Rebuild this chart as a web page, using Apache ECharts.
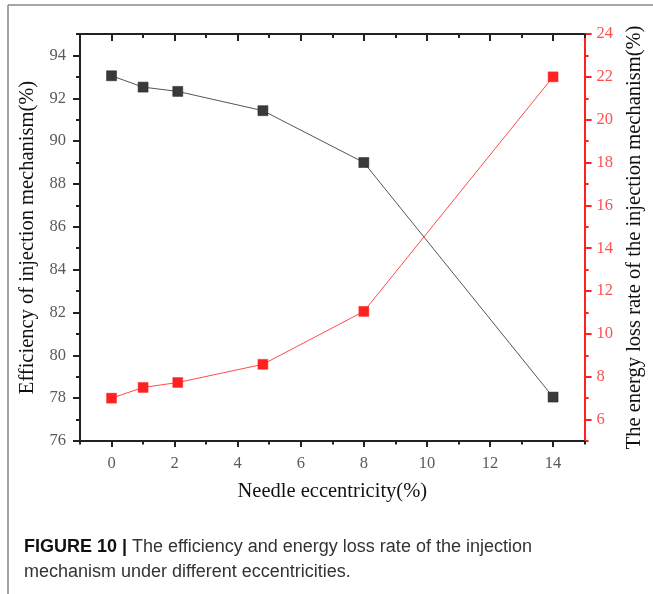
<!DOCTYPE html>
<html><head><meta charset="utf-8">
<script src="https://cdn.jsdelivr.net/npm/echarts@6/dist/echarts.min.js"></script>
<style>html,body{margin:0;padding:0;background:#fff}#c{width:653px;height:594px}</style>
</head><body><div id="c"></div>
<script>
// ---- data ----
const eccentricity = [0, 1, 2.1, 4.8, 8, 14];
const efficiency = [93.05, 92.52, 92.32, 91.42, 89.0, 78.05];
const energyLoss = [7.0, 7.5, 7.73, 8.58, 11.05, 22.0];
const xMajorTicks = [0, 2, 4, 6, 8, 10, 12, 14];
const xMinorTicks = [-1, 1, 3, 5, 7, 9, 11, 13, 15];
const effMajorTicks = [76, 78, 80, 82, 84, 86, 88, 90, 92, 94];
const effMinorTicks = [77, 79, 81, 83, 85, 87, 89, 91, 93, 95];
const lossMajorTicks = [6, 8, 10, 12, 14, 16, 18, 20, 22, 24];
const lossMinorTicks = [5, 7, 9, 11, 13, 15, 17, 19, 21, 23];
const xTitle = 'Needle eccentricity(%)';
const leftTitle = 'Efficiency of injection mechanism(%)';
const rightTitle = 'The energy loss rate of the injection mechanism(%)';
const captionBold = 'FIGURE 10 |';
const captionText = ' The efficiency and energy loss rate of the injection\nmechanism under different eccentricities.';

const serif = 'Liberation Serif';
const axisColor = '#222';
const red = '#ff2020';

function xAx(pos, ticks, len, inside, labels) {
  return {
    type: 'value', position: pos, min: -1, max: 15, interval: 1,
    axisLine: { show: true, onZero: false, lineStyle: { color: axisColor, width: 2 } },
    axisTick: { show: true, inside: inside, length: len, customValues: ticks, lineStyle: { color: axisColor, width: 2 } },
    axisLabel: labels ? { show: true, customValues: labels, margin: 14.5, fontFamily: serif, fontSize: 16.5, color: '#5a5a5a' } : { show: false },
    splitLine: { show: false }
  };
}
function yAx(pos, min, max, ticks, len, color, labelColor, labels) {
  return {
    type: 'value', position: pos, min: min, max: max, interval: 1,
    axisLine: { show: true, onZero: false, lineStyle: { color: color, width: 2 } },
    axisTick: { show: true, inside: false, length: len, customValues: ticks, lineStyle: { color: color, width: 2 } },
    axisLabel: labels ? { show: true, customValues: labels, margin: pos === 'left' ? 14 : 12, fontFamily: serif, fontSize: 16.5, color: labelColor } : { show: false },
    splitLine: { show: false }
  };
}

const xAxes = [
  Object.assign(xAx('bottom', xMajorTicks, 6, false, xMajorTicks), {
    name: xTitle, nameLocation: 'middle', nameGap: 40,
    nameTextStyle: { fontFamily: serif, fontSize: 20.5, color: '#111' }
  }),
  xAx('bottom', xMinorTicks, 3.5, false, null),
  xAx('top', xMajorTicks, 7, true, null),
  xAx('top', xMinorTicks, 4, true, null)
];
const yAxes = [
  Object.assign(yAx('left', 76, 95, effMajorTicks, 7, axisColor, '#5a5a5a', effMajorTicks), {
    name: leftTitle, nameLocation: 'middle', nameGap: 37, nameRotate: 90,
    nameTextStyle: { fontFamily: serif, fontSize: 20.5, color: '#111' }
  }),
  yAx('left', 76, 95, effMinorTicks, 4, axisColor, '#5a5a5a', null),
  Object.assign(yAx('right', 5, 24, lossMajorTicks, 7, red, '#ff5050', lossMajorTicks), {
    name: rightTitle, nameLocation: 'middle', nameGap: 38, nameRotate: 90,
    nameTextStyle: { fontFamily: serif, fontSize: 20.5, color: '#111' }
  }),
  yAx('right', 5, 24, lossMinorTicks, 4, red, '#ff5050', null)
];

const chart = echarts.init(document.getElementById('c'), null, { renderer: 'canvas' });
chart.setOption({
  animation: false,
  backgroundColor: '#fff',
  grid: { left: 80, right: 68, top: 34, bottom: 153, containLabel: false },
  xAxis: xAxes,
  yAxis: yAxes,
  series: [
    {
      type: 'line', xAxisIndex: 0, yAxisIndex: 0,
      data: eccentricity.map((x, i) => [x, efficiency[i]]),
      symbol: 'rect', symbolSize: 10, showSymbol: true,
      lineStyle: { color: '#555', width: 1 },
      itemStyle: { color: '#3a3a3a', borderColor: '#222', borderWidth: 0.5 }
    },
    {
      type: 'line', xAxisIndex: 0, yAxisIndex: 2,
      data: eccentricity.map((x, i) => [x, energyLoss[i]]),
      symbol: 'rect', symbolSize: 10, showSymbol: true,
      lineStyle: { color: '#ff4a4a', width: 1 },
      itemStyle: { color: red, borderColor: '#ff3030', borderWidth: 0.5 }
    }
  ],
  graphic: [
    { type: 'line', shape: { x1: 8, y1: 5, x2: 653, y2: 5 }, style: { stroke: '#888', lineWidth: 1.5 } },
    { type: 'line', shape: { x1: 8, y1: 5, x2: 8, y2: 594 }, style: { stroke: '#888', lineWidth: 1.5 } },
    {
      type: 'text', left: 24, top: 535,
      style: {
        text: '{b|' + captionBold + '}' + captionText,
        fontFamily: 'Liberation Sans', fontSize: 18, lineHeight: 25, fill: '#333',
        rich: { b: { fontFamily: 'Liberation Sans', fontWeight: 'bold', fontSize: 18, lineHeight: 25, fill: '#111', color: '#111' } }
      }
    }
  ]
});
</script></body></html>
